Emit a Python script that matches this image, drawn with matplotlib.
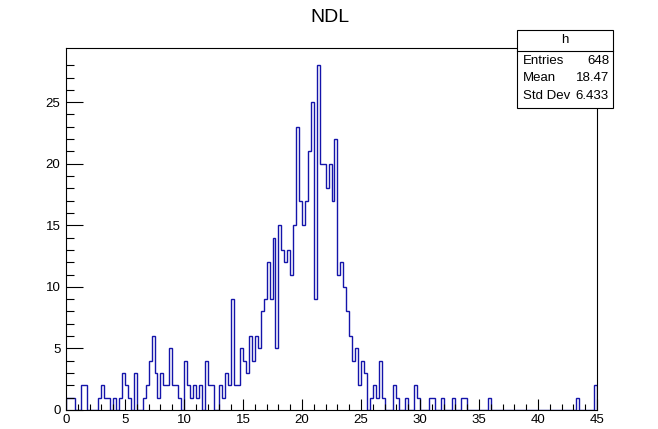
import numpy as np
import matplotlib
matplotlib.use("Agg")
import matplotlib.pyplot as plt

# histogram "h", 180 bins from 0 to 45
nbins = 180
xmin, xmax = 0, 45
counts = [
    1, 1, 1, 0, 0, 2, 2, 0, 0, 0,  0, 1, 2, 1, 1, 0, 1, 0, 1, 3,
    2, 1, 0, 3, 0, 0, 1, 2, 4, 6,  3, 1, 3, 2, 2, 5, 2, 2, 1, 0,
    4, 2, 1, 2, 1, 2, 0, 4, 2, 2,  0, 0, 2, 1, 3, 2, 9, 2, 2, 5,
    4, 3, 6, 4, 6, 5, 8, 9, 12, 9,  14, 5, 15, 13, 12, 13, 11, 15, 23, 17,
    15, 17, 21, 25, 9, 28, 20, 20, 18, 20,  17, 22, 11, 12, 10, 8, 6, 4, 5, 2,
    4, 3, 0, 1, 2, 1, 4, 1, 0, 0,  0, 2, 1, 0, 0, 1, 0, 0, 2, 1,
    0, 0, 0, 1, 1, 0, 0, 1, 0, 0,  0, 1, 0, 0, 1, 1, 0, 0, 0, 0,
    0, 0, 0, 1, 0, 0, 0, 0, 0, 0,  0, 0, 0, 0, 0, 0, 0, 0, 0, 0,
    0, 0, 0, 0, 0, 0, 0, 0, 0, 0,  0, 0, 0, 1, 0, 0, 0, 0, 0, 2,
]
stat_names = ["Entries", "Mean", "Std Dev"]
stat_values = ["648", "18.47", "6.433"]
hist_name = "h"
title = "NDL"

edges = np.linspace(xmin, xmax, nbins + 1)

plt.rcParams['font.family'] = ['Liberation Sans', 'DejaVu Sans']

fig = plt.figure(figsize=(6.58, 4.29), dpi=100)
ax = fig.add_axes([66/658, 19/429, 531/658, 362/429])

ax.stairs(counts, edges, color='#1414aa', lw=1.0, baseline=0)

ax.set_xlim(xmin, xmax)
ax.set_ylim(0, max(counts) * 1.05)

# ROOT like ticks: inside, only left/bottom
ax.set_xticks(np.arange(0, 46, 5))
ax.set_xticks(np.arange(0, 46, 1), minor=True)
ax.set_yticks(np.arange(0, 26, 5))
ax.set_yticks(np.arange(0, 29, 1), minor=True)
ax.tick_params(axis='x', which='major', direction='in', length=8, width=0.8, labelsize=9.5, pad=3)
ax.tick_params(axis='x', which='minor', direction='in', length=4.3, width=0.8)
ax.tick_params(axis='y', which='major', direction='in', length=12, width=0.8, labelsize=9.5, pad=4)
ax.tick_params(axis='y', which='minor', direction='in', length=6, width=0.8)
for s in ax.spines.values():
    s.set_linewidth(0.8)

fig.text(330/658, 1 - 18/429, title, ha='center', va='center', fontsize=14)

# stats box
bx0, bx1 = 517/658, 613/658
by0, by1 = 1 - 108/429, 1 - 30/429
sep = 1 - 51/429
box = plt.Rectangle((bx0, by0), bx1 - bx0, by1 - by0, transform=fig.transFigure,
                    facecolor='white', edgecolor='black', lw=0.8, zorder=5)
fig.add_artist(box)
fig.add_artist(plt.Line2D([bx0, bx1], [sep, sep], transform=fig.transFigure, color='black', lw=0.8, zorder=6))
fig.text((bx0 + bx1) / 2, 1 - 40/429, hist_name, ha='center', va='center', fontsize=9.5, zorder=7)
rows_y = [61, 78, 96]
for name, val, yy in zip(stat_names, stat_values, rows_y):
    fig.text(523/658, 1 - yy/429, name, ha='left', va='center', fontsize=9.5, zorder=7)
    fig.text(609/658, 1 - yy/429, val, ha='right', va='center', fontsize=9.5, zorder=7)

fig.savefig("out.png", dpi=100)
